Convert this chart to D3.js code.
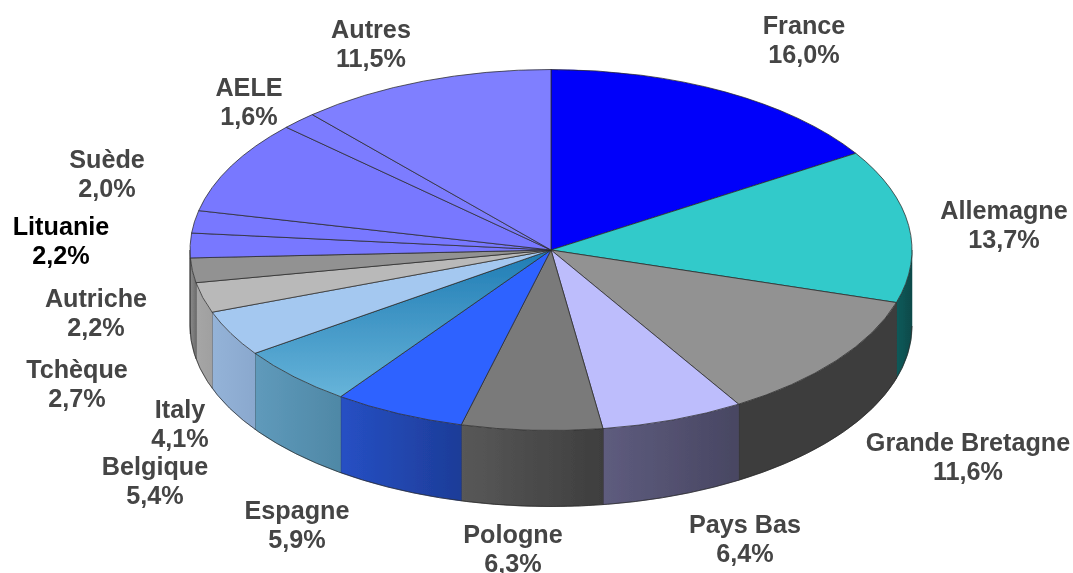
<!DOCTYPE html>
<html lang="fr">
<head>
  <meta charset="UTF-8">
  <title>Parts par pays</title>
  <style>
    html, body { margin: 0; background: #fff; }
    svg { display: block; }
    .label { font-family: "Liberation Sans", Arial, sans-serif; font-weight: bold; font-size: 25.2px; fill: #444; text-anchor: middle; }
    .label.dark { fill: #000; }
    .edge { fill: none; stroke: #2a2a2a; stroke-width: 1; stroke-opacity: .75; vector-effect: non-scaling-stroke; }
  </style>
</head>
<body>
  <script src="https://cdn.jsdelivr.net/npm/d3@7"></script>
  <script>
    // valeurs, la tranche sans etiquette est le reste a 100
    const categories = ['France', 'Allemagne', 'Grande Bretagne', 'Pays Bas', 'Pologne', 'Espagne', 'Belgique', 'Italy', 'Tchèque', 'Autriche', 'Lituanie', 'Suède', '', 'AELE', 'Autres'];
    const values = [16.0, 13.7, 11.6, 6.4, 6.3, 5.9, 5.4, 4.1, 2.7, 2.2, 2.2, 2.0, 8.4, 1.6, 11.5];
    const valueLabels = ['16,0%', '13,7%', '11,6%', '6,4%', '6,3%', '5,9%', '5,4%', '4,1%', '2,7%', '2,2%', '2,2%', '2,0%', '', '1,6%', '11,5%'];

    const topColors = ['#0000fa', '#31caca', '#929292', '#bdbdfc', '#7a7a7a', '#2f62ff', 'url(#belgiqueTop)', '#a4c8f0', '#b9b9b9', '#929292', '#7878ff', '#7878ff', '#7878ff', '#7c7cff', '#7f7fff'];
    const sideLeft = ['#000090', '#0f5a5a', '#3c3c3c', '#5e5c7e', '#585858', '#2650c4', '#5f9abb', '#94b3d8', '#a6a6a6', '#8a8a8a', '#6f6f6f', '#444', '#444', '#444', '#444'];
    const sideRight = ['#000090', '#0e4a4a', '#3c3c3c', '#484662', '#3e3e3e', '#1d3c98', '#4f88a6', '#8aa8ce', '#a0a0a0', '#6f6f6f', '#6f6f6f', '#444', '#444', '#444', '#444'];

    // centre du texte de chaque etiquette (vide pour la tranche sans nom)
    const labelX = [804, 1004, 968, 745, 513, 297, 155, 180, 77, 96, 61, 107, 0, 249, 371];
    const labelY = [34, 219, 451, 533, 543, 519, 475, 418, 378, 307, 235, 168, 0, 96, 38];

    const width = 1073, height = 573;
    const cx = 551, cy = 250, rx = 361, ry = 180.5, depth = 76;
    const lineGap = 29;

    const svg = d3.select('body').append('svg').attr('width', width).attr('height', height);
    const defs = svg.append('defs');

    defs.append('filter').attr('id', 'soft')
      .attr('x', '-5%').attr('y', '-5%').attr('width', '110%').attr('height', '110%')
      .append('feGaussianBlur').attr('stdDeviation', 0.4);

    // dans le groupe de la face superieure, donc en coordonnees non aplaties
    const grad = defs.append('linearGradient').attr('id', 'belgiqueTop')
      .attr('gradientUnits', 'userSpaceOnUse')
      .attr('x1', 0).attr('x2', 0).attr('y1', 0).attr('y2', 0.8 * rx);
    grad.append('stop').attr('offset', 0).attr('stop-color', '#1f7cb4');
    grad.append('stop').attr('offset', 1).attr('stop-color', '#66b3d9');

    const slices = d3.pie().sort(null).value(d => d)(values);
    const arc = d3.arc().innerRadius(0).outerRadius(rx);
    const lineGen = d3.line();
    const rim = (a, dy) => [cx + rx * Math.sin(a), cy - ry * Math.cos(a) + dy];
    const rimRange = (a0, a1, dy) => d3.range(0, 41).map(i => rim(a0 + (a1 - a0) * i / 40, dy));

    const chart = svg.append('g').attr('filter', 'url(#soft)');

    // flancs visibles : seulement la moitie avant de l'ellipse
    const side = chart.append('g');
    slices.forEach((s, i) => {
      const a0 = Math.max(s.startAngle, Math.PI / 2), a1 = Math.min(s.endAngle, 3 * Math.PI / 2);
      if (a1 <= a0) return;
      const xs = [rim(a0, 0)[0], rim(a1, 0)[0]];
      const g = defs.append('linearGradient').attr('id', 'side' + i)
        .attr('gradientUnits', 'userSpaceOnUse')
        .attr('x1', d3.min(xs)).attr('x2', d3.max(xs)).attr('y1', 0).attr('y2', 0);
      g.append('stop').attr('offset', 0).attr('stop-color', sideLeft[i]);
      g.append('stop').attr('offset', 1).attr('stop-color', sideRight[i]);
      const pts = rimRange(a0, a1, 0).concat(rimRange(a1, a0, depth));
      side.append('path').attr('d', lineGen(pts) + 'Z')
        .attr('fill', `url(#side${i})`)
        .attr('stroke', sideRight[i]).attr('stroke-width', 0.5);
      side.append('path').attr('class', 'edge').attr('d', lineGen([rim(a1, 0), rim(a1, depth)]));
    });

    const top3d = chart.append('g').attr('transform', `translate(${cx},${cy}) scale(1,${ry / rx})`);
    top3d.selectAll('path').data(slices).join('path')
      .attr('class', 'edge')
      .attr('d', arc)
      .style('fill', (d, i) => topColors[i]);

    // contour bas du volume
    chart.append('path').attr('class', 'edge').attr('d', lineGen(rimRange(Math.PI / 2, 3 * Math.PI / 2, depth)));

    const labels = chart.append('g');
    categories.forEach((name, i) => {
      if (!name) return;
      const t = labels.append('text').attr('class', name === 'Lituanie' ? 'label dark' : 'label')
        .attr('x', labelX[i]).attr('y', labelY[i]);
      t.append('tspan').attr('x', labelX[i]).text(name);
      t.append('tspan').attr('x', labelX[i]).attr('dy', lineGap).text(valueLabels[i]);
    });
  </script>
</body>
</html>
